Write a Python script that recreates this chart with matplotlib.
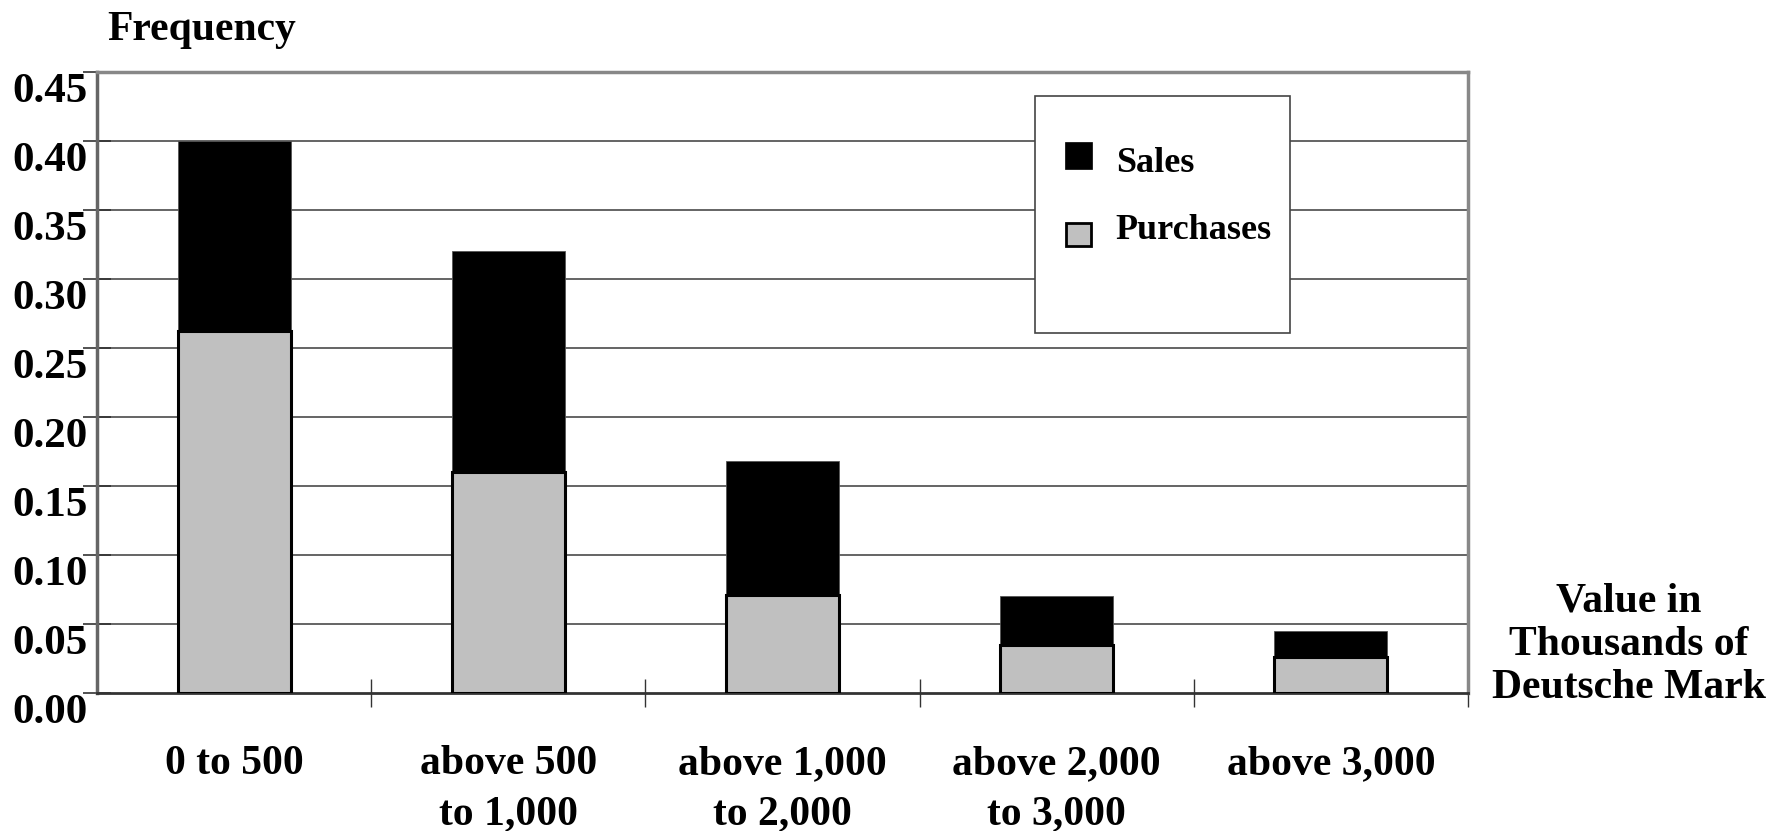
import matplotlib.pyplot as plt
import matplotlib.transforms as mtransforms
from matplotlib.patches import Rectangle

# frequency of transactions by value class
categories = ["0 to 500", "above 500\nto 1,000", "above 1,000\nto 2,000",
              "above 2,000\nto 3,000", "above 3,000"]
purchases = [0.262, 0.160, 0.071, 0.035, 0.026]
sales = [0.138, 0.160, 0.097, 0.035, 0.019]
yticks = [0.00, 0.05, 0.10, 0.15, 0.20, 0.25, 0.30, 0.35, 0.40, 0.45]

SERIF = "Liberation Serif"
GREY = "#c0c0c0"

fig = plt.figure(figsize=(17.77, 8.31), dpi=100)
ax = fig.add_axes([0.0546, 0.1661, 0.7715, 0.7473])

x = range(len(categories))
width = 0.412
ax.bar(x, purchases, width=width, color=GREY, edgecolor="black",
       linewidth=2.2, zorder=3)
ax.bar(x, sales, width=width, bottom=purchases, color="black",
       edgecolor="#555555", linewidth=0.6, zorder=2)

ax.set_xlim(-0.5, len(categories) - 0.5)
ax.set_ylim(0, 0.45)

# horizontal rules at every y tick
for y in yticks[1:-1]:
    ax.axhline(y, color="#3a3a3a", linewidth=1.1, zorder=1)

for side in ("top", "right"):
    ax.spines[side].set_color("#888888")
    ax.spines[side].set_linewidth(2.5)
ax.spines["left"].set_color("#666666")
ax.spines["left"].set_linewidth(2.5)
ax.spines["bottom"].set_color("#333333")
ax.spines["bottom"].set_linewidth(2.0)

ax.set_yticks(yticks)
ax.set_yticklabels([f"{v:.2f}" for v in yticks], fontsize=31,
                   fontweight="bold", family=SERIF)
ax.tick_params(axis="y", direction="inout", length=20, width=1.2,
               color="#333333", pad=-3)
shift = mtransforms.ScaledTranslation(0, -16 / 100, fig.dpi_scale_trans)
for lbl in ax.get_yticklabels():
    lbl.set_transform(lbl.get_transform() + shift)

# ticks sit on category boundaries, labels at category centres
ax.set_xticks([i + 0.5 for i in range(len(categories))])
ax.set_xticklabels([])
ax.tick_params(axis="x", direction="inout", length=20, width=1.0,
               color="#333333")
for i, name in enumerate(categories):
    ax.text(i, -0.0375, name, ha="center", va="top", fontsize=30,
            fontweight="bold", family=SERIF, linespacing=1.42,
            transform=ax.transData, clip_on=False)

fig.text(202 / 1777, 1 - 30 / 831, "Frequency", ha="center", va="center",
         fontsize=30, fontweight="bold", family=SERIF)
fig.text(1629 / 1777, 1 - 645 / 831, "Value in\nThousands of\nDeutsche Mark",
         ha="center", va="center", fontsize=30, fontweight="bold",
         family=SERIF, linespacing=1.18)

# legend panel
ax.add_patch(Rectangle((0.684, 0.580), 0.186, 0.381, transform=ax.transAxes,
                       facecolor="white", edgecolor="#444444", linewidth=1.2,
                       zorder=5))
ax.add_patch(Rectangle((0.706, 0.844), 0.0197, 0.044, transform=ax.transAxes,
                       facecolor="black", edgecolor="black", linewidth=0.5,
                       zorder=6))
ax.add_patch(Rectangle((0.707, 0.719), 0.0180, 0.037, transform=ax.transAxes,
                       facecolor=GREY, edgecolor="black", linewidth=2.0,
                       zorder=6))
ax.text(0.743, 0.852, "Sales", transform=ax.transAxes, ha="left",
        va="center", fontsize=26, fontweight="bold", family=SERIF, zorder=7)
ax.text(0.743, 0.744, "Purchases", transform=ax.transAxes, ha="left",
        va="center", fontsize=26, fontweight="bold", family=SERIF, zorder=7)

fig.savefig("out.png", dpi=100)
